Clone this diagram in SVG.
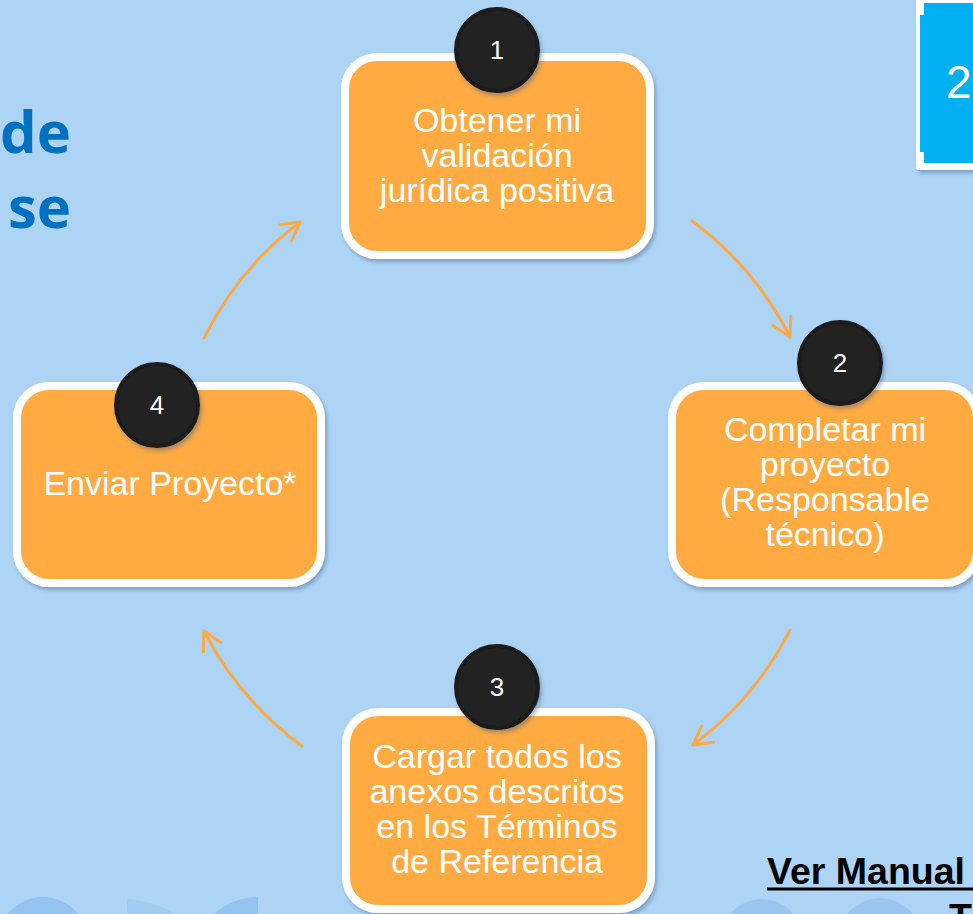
<svg xmlns="http://www.w3.org/2000/svg" width="973" height="914" viewBox="0 0 973 914">
  <defs>
    <filter id="sh" x="-10%" y="-10%" width="125%" height="125%">
      <feDropShadow dx="2" dy="3" stdDeviation="2" flood-color="#3a5f85" flood-opacity="0.45"/>
    </filter>
    <marker id="ah" markerUnits="userSpaceOnUse" viewBox="-22 -13 26 26" refX="0" refY="0" markerWidth="26" markerHeight="26" orient="auto">
      <path d="M-18,-10 L0,0 L-18,10" fill="none" stroke="#FBA945" stroke-width="3" stroke-linecap="round" stroke-linejoin="round"/>
    </marker>
    <style>
      .box { fill: #FFAB43; stroke: #FFFFFF; stroke-width: 8; }
      .badge { fill: #222222; stroke: #1a1a1a; stroke-width: 4; }
      .num { font-family: "Liberation Sans", Arial, sans-serif; font-size: 26px; fill: #FFFFFF; text-anchor: middle; }
      .lbl { font-family: "Liberation Sans", Arial, sans-serif; font-size: 34px; fill: #FFFFFF; text-anchor: middle; }
      .arc { fill: none; stroke: #FBA945; stroke-width: 3; stroke-linecap: round; marker-end: url(#ah); }
      .deco { fill: #93C3EE; }
      .title { font-family: "Open Sans", "Noto Sans", sans-serif; font-weight: bold; font-size: 58px; fill: #0070C0; text-anchor: end; }
      .link { font-family: "Liberation Sans", Arial, sans-serif; font-weight: bold; font-size: 37.5px; fill: #000000; }
    </style>
  </defs>

  <rect x="0" y="0" width="973" height="914" fill="#AED4F5"/>

  <!-- decorative shapes at bottom -->
  <g id="decor">
    <circle class="deco" cx="43" cy="942" r="45"/>
    <path d="M127,914 L127,899 Q152,900 176,914 Z" fill="#A2CDF3"/>
    <path d="M214,914 Q232,898 258,897 L258,914 Z" class="deco"/>
    <circle class="deco" cx="762" cy="940" r="41" opacity="0.8"/>
    <circle class="deco" cx="880" cy="940" r="42" opacity="0.8"/>
  </g>

  <!-- partial title at top-left -->
  <g id="title">
    <text class="title" x="71" y="153">de</text>
    <text class="title" x="71" y="228">se</text>
  </g>

  <!-- top-right box -->
  <g id="box-top-right">
    <rect x="916" y="-10" width="70" height="180" rx="3" fill="#FFFFFF" filter="url(#sh)"/>
    <rect x="920" y="3" width="60" height="160" fill="#00B0F0"/>
    <rect x="920" y="3" width="4" height="12" fill="#FFFFFF"/>
    <rect x="920" y="152" width="4" height="11" fill="#FFFFFF"/>
    <text x="946" y="98" font-family="Liberation Sans, Arial, sans-serif" font-size="46" fill="#FFFFFF">2</text>
  </g>

  <!-- connectors -->
  <g id="connectors">
    <path class="arc" d="M692,221 A327,327 0 0 1 790,337"/>
    <path class="arc" d="M790,630 A327,327 0 0 1 693,745"/>
    <path class="arc" d="M302,746 A327,327 0 0 1 204,631"/>
    <path class="arc" d="M204,338 A327,327 0 0 1 300,222"/>
  </g>

  <!-- node 1 -->
  <g id="node1">
    <rect class="box" x="345" y="57" width="305" height="198" rx="32" filter="url(#sh)"/>
    <circle class="badge" cx="497" cy="50" r="41" filter="url(#sh)"/>
    <text class="num" x="497" y="59">1</text>
    <text class="lbl" x="497" y="132">Obtener mi</text>
    <text class="lbl" x="497" y="167">validación</text>
    <text class="lbl" x="497" y="202">jurídica positiva</text>
  </g>

  <!-- node 2 -->
  <g id="node2">
    <rect class="box" x="672" y="386" width="305" height="197" rx="32" filter="url(#sh)"/>
    <circle class="badge" cx="840" cy="363" r="41" filter="url(#sh)"/>
    <text class="num" x="840" y="372">2</text>
    <text class="lbl" x="825" y="441">Completar mi</text>
    <text class="lbl" x="825" y="476">proyecto</text>
    <text class="lbl" x="825" y="511">(Responsable</text>
    <text class="lbl" x="825" y="546">técnico)</text>
  </g>

  <!-- node 3 -->
  <g id="node3">
    <rect class="box" x="346" y="712" width="305" height="197" rx="32" filter="url(#sh)"/>
    <circle class="badge" cx="497" cy="687" r="41" filter="url(#sh)"/>
    <text class="num" x="497" y="696">3</text>
    <text class="lbl" x="497" y="768">Cargar todos los</text>
    <text class="lbl" x="497" y="803">anexos descritos</text>
    <text class="lbl" x="497" y="838">en los Términos</text>
    <text class="lbl" x="497" y="873">de Referencia</text>
  </g>

  <!-- node 4 -->
  <g id="node4">
    <rect class="box" x="17" y="386" width="304" height="197" rx="32" filter="url(#sh)"/>
    <circle class="badge" cx="157" cy="405" r="41" filter="url(#sh)"/>
    <text class="num" x="157" y="414">4</text>
    <text class="lbl" x="170" y="495">Enviar Proyecto*</text>
  </g>

  <!-- bottom-right link text -->
  <g id="manual-link">
    <text class="link" x="767" y="884">Ver Manual</text>
    <line x1="767" y1="889" x2="973" y2="889" stroke="#000000" stroke-width="3"/>
    <text class="link" x="949" y="930">T</text>
  </g>
</svg>
